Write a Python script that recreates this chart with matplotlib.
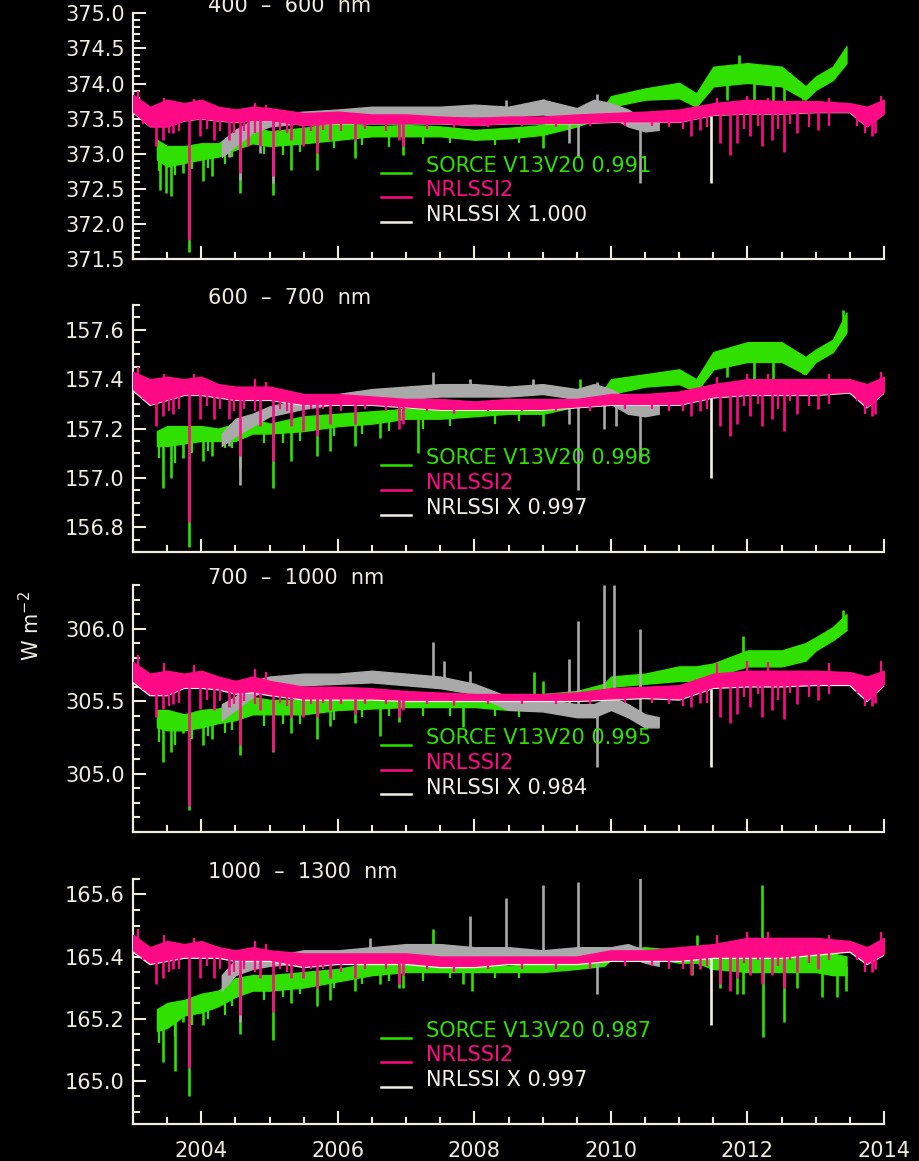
import numpy as np
import matplotlib
matplotlib.use("Agg")
import matplotlib.pyplot as plt
from matplotlib.ticker import MultipleLocator, FormatStrFormatter

# ---------------- DATA ----------------
BANDS = ["400  \u2013  600  nm", "600  \u2013  700  nm", "700  \u2013  1000  nm", "1000  \u2013  1300  nm"]
SORCE_FACTORS = ["0.991", "0.998", "0.995", "0.987"]
NRL_FACTORS = ["1.000", "0.997", "0.984", "0.997"]
YLIMS = [(371.5, 375.0), (156.7, 157.7), (304.6, 306.3), (164.86, 165.65)]
YMAJOR = [0.5, 0.2, 0.5, 0.2]
YMINOR = [0.1, 0.05, 0.1, 0.05]
XTICKS = [2004, 2006, 2008, 2010, 2012, 2014]

T_NRL = [2003.0, 2003.25, 2003.5, 2003.75, 2004.0, 2004.25, 2004.5, 2004.75, 2005.0,
         2005.5, 2006.0, 2006.5, 2007.0, 2007.5, 2008.0, 2008.5, 2009.0, 2009.5,
         2010.0, 2010.5, 2011.0, 2011.5, 2012.0, 2012.5, 2013.0, 2013.5, 2013.75, 2014.0]
T_SORCE = [2003.35, 2003.5, 2003.75, 2004.0, 2004.25, 2004.5, 2004.75, 2005.0, 2005.5,
           2006.0, 2006.5, 2007.0, 2007.5, 2008.0, 2008.5, 2009.0, 2009.5, 2009.9,
           2010.0, 2010.5, 2011.0, 2011.25, 2011.5, 2012.0, 2012.5, 2012.85, 2013.0,
           2013.25, 2013.45]
T_GRAY = [2004.3, 2004.5, 2004.75, 2005.0, 2005.5, 2006.0, 2006.5, 2007.0, 2007.5,
          2008.0, 2008.5, 2009.0, 2009.5, 2009.75, 2010.0, 2010.25, 2010.5, 2010.7]

# years of the smaller NRLSSI2 excursions (same days in every band)
NRL2_SMALL_DIP_YEARS = [2003.15, 2003.52, 2003.68, 2004.08, 2004.27, 2004.48, 2004.62, 2004.78,
                        2005.15, 2005.25, 2005.60, 2005.78, 2006.05, 2006.40, 2006.70, 2007.30,
                        2007.70, 2008.20, 2008.70, 2009.20, 2009.70, 2010.20, 2010.60, 2010.85,
                        2011.05, 2011.40, 2011.95, 2012.15, 2012.45, 2012.62, 2012.90, 2013.20,
                        2013.60, 2013.72]
NRL2_PEAK_YEARS = [2003.08, 2003.45, 2003.90, 2004.78, 2004.95, 2011.55, 2012.00, 2012.30,
                   2013.20, 2013.95]
SORCE_SMALL_DIP_YEARS = [2003.38, 2003.62, 2003.86, 2004.10, 2004.35, 2004.45, 2004.92,
                         2005.20, 2005.45, 2005.95, 2006.35, 2006.75, 2007.25, 2007.65,
                         2008.30, 2008.65]

# ---- Panel 1: 400-600 nm ----
P1_NRL2_HI = [373.84, 373.67, 373.77, 373.72, 373.77, 373.67, 373.63, 373.67, 373.65, 373.58,
              373.60, 373.56, 373.56, 373.53, 373.51, 373.53, 373.53, 373.56, 373.58, 373.60,
              373.63, 373.72, 373.77, 373.75, 373.75, 373.72, 373.67, 373.77]
P1_NRL2_LO = [373.60, 373.39, 373.39, 373.48, 373.51, 373.48, 373.46, 373.48, 373.48, 373.41,
              373.44, 373.44, 373.44, 373.44, 373.41, 373.44, 373.44, 373.44, 373.46, 373.46,
              373.46, 373.56, 373.58, 373.58, 373.60, 373.60, 373.39, 373.58]
P1_NRL = [373.59, 373.39, 373.39, 373.47, 373.50, 373.47, 373.45, 373.47, 373.47, 373.41,
          373.43, 373.43, 373.43, 373.43, 373.41, 373.43, 373.43, 373.43, 373.45, 373.45,
          373.45, 373.55, 373.57, 373.57, 373.59, 373.59, 373.39, 373.57]
P1_SORCE_HI = [373.20, 373.11, 373.11, 373.15, 373.15, 373.30, 373.39, 373.32, 373.37, 373.44,
               373.39, 373.41, 373.39, 373.34, 373.37, 373.41, 373.58, 373.67, 373.82, 373.93,
               374.01, 373.86, 374.24, 374.29, 374.24, 373.96, 374.10, 374.24, 374.53]
P1_SORCE_LO = [372.92, 372.82, 372.87, 372.92, 372.96, 373.06, 373.15, 373.11, 373.15, 373.20,
               373.25, 373.25, 373.25, 373.20, 373.22, 373.27, 373.39, 373.53, 373.67, 373.77,
               373.79, 373.67, 373.96, 374.01, 373.96, 373.77, 373.91, 374.05, 374.29]
P1_GRAY_HI = [373.18, 373.34, 373.48, 373.56, 373.60, 373.63, 373.67, 373.67, 373.67,
              373.70, 373.67, 373.77, 373.65, 373.77, 373.72, 373.63, 373.48, 373.48]
P1_GRAY_LO = [372.96, 373.11, 373.30, 373.39, 373.44, 373.46, 373.51, 373.53, 373.53,
              373.53, 373.53, 373.56, 373.51, 373.56, 373.53, 373.39, 373.32, 373.34]
P1_NRL2_SPIKES = [(2003.33, 373.11), (2003.44, 373.20), (2003.59, 373.30), (2003.82, 371.78),
                  (2003.98, 373.25), (2004.18, 373.20), (2004.40, 373.20), (2004.57, 372.73),
                  (2004.69, 373.11), (2004.86, 373.11), (2005.05, 372.68), (2005.32, 373.20),
                  (2005.49, 373.11), (2005.69, 373.01), (2005.89, 373.20), (2006.25, 373.20),
                  (2006.89, 373.20), (2006.96, 373.11), (2011.17, 373.25), (2011.31, 373.34),
                  (2011.60, 373.15), (2011.74, 372.99), (2011.84, 373.15), (2012.04, 373.25),
                  (2012.21, 373.11), (2012.36, 373.20), (2012.53, 373.03), (2012.72, 373.30),
                  (2013.04, 373.34), (2013.82, 373.25), (2013.87, 373.30)]
P1_NRL2_SMALL_DIPS = [373.42, 373.30, 373.32, 373.35, 373.33, 373.30, 373.33, 373.30,
                      373.33, 373.30, 373.32, 373.34, 373.33, 373.35, 373.33, 373.36,
                      373.37, 373.38, 373.39, 373.38, 373.39, 373.39, 373.40, 373.38,
                      373.36, 373.38, 373.35, 373.40, 373.36, 373.42, 373.38, 373.40,
                      373.40, 373.30]
P1_NRL2_PEAKS = [373.90, 373.80, 373.78, 373.72, 373.70, 373.80, 373.82, 373.80, 373.79, 373.82]
P1_SORCE_SPIKES = [(2003.40, 372.49), (2003.49, 372.44), (2003.56, 372.40), (2003.73, 372.73),
                   (2004.03, 372.61), (2004.15, 372.68), (2004.57, 372.44), (2005.05, 372.42),
                   (2003.82, 371.61), (2005.32, 372.77), (2005.69, 372.77), (2006.25, 372.94),
                   (2006.96, 372.99), (2009.00, 373.08), (2011.88, 374.41), (2011.70, 373.77),
                   (2012.09, 373.72), (2012.38, 373.67), (2012.53, 373.67), (2012.82, 373.77)]
P1_SORCE_SMALL_DIPS = [372.75, 372.70, 372.78, 372.80, 372.85, 372.95, 373.00, 372.98,
                       373.02, 373.08, 373.12, 373.10, 373.14, 373.15, 373.12, 373.15]
P1_GRAY_SPIKES = [(2008.46, 373.77), (2009.00, 373.78), (2009.79, 373.85), (2009.39, 373.15),
                  (2009.52, 372.96), (2010.43, 372.59), (2004.57, 372.63), (2005.05, 372.59),
                  (2004.86, 373.01), (2004.40, 372.96)]
P1_NRL_SPIKES = [(2011.46, 372.59)]

# ---- Panel 2: 600-700 nm ----
P2_NRL2_HI = [157.43, 157.40, 157.41, 157.40, 157.41, 157.38, 157.37, 157.37, 157.37, 157.34,
              157.34, 157.33, 157.32, 157.32, 157.31, 157.32, 157.32, 157.32, 157.34, 157.34,
              157.35, 157.38, 157.40, 157.40, 157.40, 157.40, 157.38, 157.41]
P2_NRL2_LO = [157.36, 157.30, 157.32, 157.34, 157.34, 157.33, 157.32, 157.32, 157.32, 157.30,
              157.30, 157.30, 157.29, 157.28, 157.28, 157.28, 157.28, 157.29, 157.30, 157.30,
              157.30, 157.33, 157.34, 157.34, 157.34, 157.35, 157.29, 157.35]
P2_NRL = [157.355, 157.295, 157.315, 157.335, 157.335, 157.325, 157.315, 157.315, 157.315,
          157.295, 157.295, 157.295, 157.285, 157.275, 157.275, 157.275, 157.275, 157.285,
          157.295, 157.295, 157.295, 157.325, 157.335, 157.335, 157.335, 157.345, 157.285,
          157.345]
P2_SORCE_HI = [157.19, 157.21, 157.21, 157.21, 157.20, 157.22, 157.24, 157.22, 157.25, 157.26,
               157.27, 157.28, 157.28, 157.28, 157.30, 157.30, 157.33, 157.36, 157.40, 157.42,
               157.44, 157.40, 157.51, 157.55, 157.55, 157.49, 157.52, 157.56, 157.67]
P2_SORCE_LO = [157.13, 157.13, 157.14, 157.15, 157.15, 157.15, 157.18, 157.18, 157.19, 157.21,
               157.22, 157.24, 157.24, 157.25, 157.26, 157.26, 157.29, 157.32, 157.34, 157.37,
               157.38, 157.35, 157.44, 157.47, 157.47, 157.42, 157.47, 157.51, 157.59]
P2_GRAY_HI = [157.18, 157.24, 157.26, 157.29, 157.32, 157.34, 157.36, 157.37, 157.38,
              157.38, 157.37, 157.38, 157.36, 157.38, 157.36, 157.32, 157.30, 157.32]
P2_GRAY_LO = [157.13, 157.17, 157.21, 157.25, 157.28, 157.30, 157.32, 157.32, 157.33,
              157.33, 157.33, 157.34, 157.32, 157.33, 157.30, 157.26, 157.25, 157.26]
P2_NRL2_SPIKES = [(2003.33, 157.21), (2003.44, 157.25), (2003.59, 157.26), (2003.82, 156.82),
                  (2003.98, 157.24), (2004.18, 157.24), (2004.40, 157.24), (2004.57, 157.09),
                  (2004.86, 157.21), (2005.05, 157.07), (2005.32, 157.21), (2005.49, 157.19),
                  (2005.69, 157.17), (2005.89, 157.22), (2006.25, 157.22), (2006.89, 157.20),
                  (2006.96, 157.22), (2011.17, 157.25), (2011.31, 157.27), (2011.60, 157.21),
                  (2011.74, 157.17), (2011.84, 157.22), (2012.04, 157.25), (2012.21, 157.21),
                  (2012.36, 157.24), (2012.53, 157.19), (2012.72, 157.26), (2013.04, 157.28),
                  (2013.82, 157.25), (2013.87, 157.26)]
P2_NRL2_SMALL_DIPS = [157.32, 157.27, 157.28, 157.29, 157.28, 157.27, 157.28, 157.27,
                      157.28, 157.27, 157.28, 157.28, 157.27, 157.28, 157.27, 157.27,
                      157.26, 157.27, 157.27, 157.27, 157.27, 157.28, 157.28, 157.27,
                      157.27, 157.28, 157.29, 157.30, 157.28, 157.31, 157.29, 157.30,
                      157.31, 157.26]
P2_NRL2_PEAKS = [157.45, 157.42, 157.42, 157.40, 157.39, 157.41, 157.42, 157.42, 157.42, 157.43]
P2_SORCE_SPIKES = [(2003.44, 156.96), (2003.56, 157.00), (2003.73, 157.08), (2004.03, 157.07),
                   (2004.15, 157.09), (2003.82, 156.72), (2005.05, 156.96), (2004.57, 157.04),
                   (2005.32, 157.07), (2005.69, 157.09), (2005.89, 157.11), (2006.25, 157.13),
                   (2006.62, 157.16), (2007.18, 157.10), (2009.00, 157.21), (2009.55, 157.40),
                   (2013.40, 157.68), (2011.70, 157.41), (2012.09, 157.40), (2012.38, 157.38),
                   (2012.82, 157.42)]
P2_SORCE_SMALL_DIPS = [157.08, 157.06, 157.10, 157.11, 157.12, 157.12, 157.14, 157.14,
                       157.15, 157.17, 157.18, 157.19, 157.20, 157.21, 157.22, 157.23]
P2_GRAY_SPIKES = [(2007.40, 157.43), (2007.94, 157.40), (2008.86, 157.40), (2009.79, 157.39),
                  (2009.39, 157.22), (2009.52, 156.95), (2009.90, 157.20), (2010.08, 157.21),
                  (2010.43, 157.07), (2004.57, 156.97), (2004.40, 157.13)]
P2_NRL_SPIKES = [(2011.46, 157.00)]

# ---- Panel 3: 700-1000 nm ----
P3_NRL2_HI = [305.77, 305.69, 305.71, 305.69, 305.71, 305.67, 305.64, 305.67, 305.64, 305.60,
              305.60, 305.59, 305.57, 305.56, 305.55, 305.55, 305.55, 305.56, 305.59, 305.60,
              305.61, 305.69, 305.71, 305.71, 305.71, 305.70, 305.67, 305.71]
P3_NRL2_LO = [305.64, 305.55, 305.55, 305.60, 305.60, 305.59, 305.56, 305.57, 305.55, 305.52,
              305.52, 305.52, 305.51, 305.51, 305.51, 305.51, 305.51, 305.51, 305.52, 305.53,
              305.52, 305.60, 305.61, 305.61, 305.62, 305.62, 305.51, 305.62]
P3_NRL = [305.63, 305.54, 305.54, 305.59, 305.59, 305.58, 305.55, 305.56, 305.54, 305.51,
          305.51, 305.51, 305.50, 305.50, 305.50, 305.50, 305.50, 305.50, 305.51, 305.52,
          305.51, 305.59, 305.60, 305.60, 305.61, 305.61, 305.50, 305.61]
P3_SORCE_HI = [305.44, 305.44, 305.41, 305.44, 305.45, 305.48, 305.53, 305.51, 305.51, 305.53,
               305.52, 305.52, 305.52, 305.53, 305.51, 305.55, 305.57, 305.62, 305.67, 305.69,
               305.74, 305.74, 305.76, 305.85, 305.85, 305.90, 305.94, 306.01, 306.10]
P3_SORCE_LO = [305.32, 305.30, 305.30, 305.32, 305.35, 305.37, 305.41, 305.41, 305.41, 305.44,
               305.45, 305.46, 305.46, 305.46, 305.44, 305.48, 305.51, 305.55, 305.60, 305.62,
               305.64, 305.64, 305.67, 305.74, 305.74, 305.78, 305.85, 305.92, 305.99]
P3_GRAY_HI = [305.48, 305.53, 305.64, 305.67, 305.69, 305.69, 305.71, 305.69, 305.67,
              305.62, 305.53, 305.51, 305.48, 305.48, 305.53, 305.48, 305.41, 305.39]
P3_GRAY_LO = [305.37, 305.44, 305.53, 305.60, 305.61, 305.62, 305.63, 305.61, 305.59,
              305.55, 305.44, 305.43, 305.39, 305.39, 305.44, 305.39, 305.32, 305.32]
P3_NRL2_SPIKES = [(2003.33, 305.39), (2003.44, 305.45), (2003.59, 305.48), (2003.82, 304.78),
                  (2003.98, 305.45), (2004.18, 305.44), (2004.40, 305.46), (2004.57, 305.20),
                  (2004.86, 305.44), (2005.05, 305.16), (2005.32, 305.39), (2005.49, 305.39),
                  (2005.69, 305.39), (2005.89, 305.44), (2006.25, 305.41), (2006.89, 305.39),
                  (2006.96, 305.44), (2011.17, 305.46), (2011.31, 305.49), (2011.60, 305.39),
                  (2011.74, 305.35), (2011.84, 305.41), (2012.04, 305.46), (2012.21, 305.39),
                  (2012.36, 305.44), (2012.53, 305.38), (2012.72, 305.48), (2013.04, 305.51),
                  (2013.82, 305.47), (2013.87, 305.49)]
P3_NRL2_SMALL_DIPS = [305.58, 305.47, 305.49, 305.51, 305.50, 305.48, 305.50, 305.48,
                      305.49, 305.47, 305.48, 305.49, 305.48, 305.48, 305.48, 305.48,
                      305.47, 305.48, 305.48, 305.48, 305.48, 305.49, 305.49, 305.48,
                      305.47, 305.49, 305.53, 305.55, 305.51, 305.56, 305.53, 305.55,
                      305.56, 305.47]
P3_NRL2_PEAKS = [305.82, 305.76, 305.75, 305.72, 305.70, 305.76, 305.78, 305.77, 305.76, 305.78]
P3_SORCE_SPIKES = [(2003.44, 305.08), (2003.56, 305.15), (2003.73, 305.28), (2004.03, 305.20),
                   (2004.15, 305.24), (2003.82, 304.75), (2004.57, 305.13), (2005.05, 305.15),
                   (2005.32, 305.28), (2005.69, 305.24), (2005.89, 305.33), (2006.25, 305.35),
                   (2006.62, 305.26), (2006.89, 305.36), (2007.84, 305.32), (2008.87, 305.70),
                   (2009.00, 305.64), (2011.94, 305.95), (2013.40, 306.13)]
P3_SORCE_SMALL_DIPS = [305.22, 305.20, 305.24, 305.26, 305.28, 305.30, 305.33, 305.34,
                       305.34, 305.37, 305.39, 305.40, 305.40, 305.40, 305.40, 305.39]
P3_GRAY_SPIKES = [(2007.40, 305.91), (2007.55, 305.78), (2007.94, 305.71), (2009.39, 305.79),
                  (2009.52, 306.05), (2009.90, 306.30), (2010.05, 306.30), (2010.43, 306.00),
                  (2009.79, 305.05)]
P3_NRL_SPIKES = [(2011.46, 305.05)]

# ---- Panel 4: 1000-1300 nm ----
P4_NRL2_HI = [165.47, 165.43, 165.45, 165.44, 165.45, 165.43, 165.42, 165.43, 165.42, 165.41,
              165.41, 165.41, 165.41, 165.40, 165.40, 165.40, 165.40, 165.40, 165.42, 165.42,
              165.43, 165.44, 165.46, 165.46, 165.46, 165.45, 165.43, 165.46]
P4_NRL2_LO = [165.42, 165.38, 165.39, 165.40, 165.40, 165.40, 165.39, 165.39, 165.39, 165.37,
              165.38, 165.38, 165.38, 165.37, 165.37, 165.38, 165.38, 165.38, 165.39, 165.39,
              165.39, 165.40, 165.40, 165.40, 165.41, 165.42, 165.38, 165.41]
P4_NRL = [165.415, 165.375, 165.385, 165.395, 165.395, 165.395, 165.385, 165.385, 165.385,
          165.365, 165.375, 165.375, 165.375, 165.365, 165.365, 165.375, 165.375, 165.375,
          165.385, 165.385, 165.385, 165.395, 165.395, 165.395, 165.405, 165.415, 165.375,
          165.405]
P4_SORCE_HI = [165.23, 165.25, 165.26, 165.28, 165.29, 165.33, 165.34, 165.34, 165.35, 165.36,
               165.38, 165.38, 165.38, 165.38, 165.37, 165.38, 165.38, 165.40, 165.42, 165.43,
               165.42, 165.42, 165.42, 165.42, 165.42, 165.42, 165.42, 165.41, 165.40]
P4_SORCE_LO = [165.16, 165.17, 165.21, 165.22, 165.24, 165.27, 165.29, 165.29, 165.30, 165.32,
               165.34, 165.35, 165.35, 165.35, 165.35, 165.35, 165.36, 165.37, 165.39, 165.40,
               165.38, 165.38, 165.36, 165.35, 165.35, 165.35, 165.35, 165.34, 165.34]
P4_GRAY_HI = [165.34, 165.39, 165.41, 165.40, 165.42, 165.42, 165.43, 165.44, 165.44,
              165.43, 165.43, 165.42, 165.43, 165.43, 165.43, 165.44, 165.42, 165.42]
P4_GRAY_LO = [165.29, 165.34, 165.36, 165.37, 165.38, 165.39, 165.40, 165.40, 165.40,
              165.40, 165.40, 165.40, 165.40, 165.40, 165.40, 165.40, 165.38, 165.37]
P4_NRL2_SPIKES = [(2003.33, 165.31), (2003.44, 165.33), (2003.59, 165.36), (2003.82, 165.04),
                  (2003.98, 165.33), (2004.18, 165.33), (2004.40, 165.34), (2004.57, 165.21),
                  (2004.86, 165.33), (2005.05, 165.22), (2005.32, 165.33), (2005.49, 165.33),
                  (2005.69, 165.30), (2005.89, 165.33), (2006.25, 165.33), (2006.89, 165.31),
                  (2006.96, 165.34), (2011.17, 165.34), (2011.31, 165.36), (2011.60, 165.31),
                  (2011.74, 165.29), (2011.84, 165.33), (2012.04, 165.34), (2012.21, 165.31),
                  (2012.36, 165.34), (2012.53, 165.30), (2012.72, 165.35), (2013.04, 165.36),
                  (2013.82, 165.35), (2013.87, 165.36)]
P4_NRL2_SMALL_DIPS = [165.39, 165.35, 165.36, 165.37, 165.36, 165.35, 165.36, 165.35,
                      165.36, 165.35, 165.36, 165.36, 165.35, 165.36, 165.36, 165.36,
                      165.35, 165.36, 165.36, 165.36, 165.36, 165.37, 165.37, 165.36,
                      165.36, 165.37, 165.38, 165.39, 165.37, 165.39, 165.38, 165.39,
                      165.39, 165.35]
P4_NRL2_PEAKS = [165.49, 165.47, 165.46, 165.45, 165.44, 165.47, 165.48, 165.48, 165.47, 165.48]
P4_SORCE_SPIKES = [(2003.44, 165.06), (2003.61, 165.03), (2003.73, 165.19), (2004.03, 165.18),
                   (2004.15, 165.23), (2003.82, 164.95), (2004.57, 165.15), (2005.05, 165.13),
                   (2005.32, 165.25), (2005.69, 165.24), (2005.89, 165.26), (2006.25, 165.29),
                   (2006.62, 165.31), (2006.89, 165.30), (2006.96, 165.30), (2007.40, 165.49),
                   (2007.84, 165.31), (2007.96, 165.29), (2011.26, 165.47), (2011.19, 165.34),
                   (2011.45, 165.36), (2011.60, 165.30), (2011.85, 165.28), (2011.94, 165.28),
                   (2012.21, 165.63), (2012.22, 165.14), (2012.53, 165.19), (2012.72, 165.30),
                   (2013.09, 165.27), (2013.31, 165.27), (2013.45, 165.29)]
P4_SORCE_SMALL_DIPS = [165.12, 165.14, 165.18, 165.20, 165.21, 165.24, 165.26, 165.27,
                       165.28, 165.30, 165.31, 165.32, 165.32, 165.33, 165.33, 165.33]
P4_GRAY_SPIKES = [(2006.47, 165.46), (2007.94, 165.53), (2008.46, 165.59), (2009.00, 165.63),
                  (2009.52, 165.64), (2010.43, 165.66), (2009.79, 165.28), (2004.57, 165.19)]
P4_NRL_SPIKES = [(2011.46, 165.18)]

PANELS = [
    (P1_NRL2_HI, P1_NRL2_LO, P1_NRL, P1_SORCE_HI, P1_SORCE_LO, P1_GRAY_HI, P1_GRAY_LO,
     P1_NRL2_SPIKES, P1_SORCE_SPIKES, P1_GRAY_SPIKES, P1_NRL_SPIKES,
     P1_NRL2_SMALL_DIPS, P1_NRL2_PEAKS, P1_SORCE_SMALL_DIPS),
    (P2_NRL2_HI, P2_NRL2_LO, P2_NRL, P2_SORCE_HI, P2_SORCE_LO, P2_GRAY_HI, P2_GRAY_LO,
     P2_NRL2_SPIKES, P2_SORCE_SPIKES, P2_GRAY_SPIKES, P2_NRL_SPIKES,
     P2_NRL2_SMALL_DIPS, P2_NRL2_PEAKS, P2_SORCE_SMALL_DIPS),
    (P3_NRL2_HI, P3_NRL2_LO, P3_NRL, P3_SORCE_HI, P3_SORCE_LO, P3_GRAY_HI, P3_GRAY_LO,
     P3_NRL2_SPIKES, P3_SORCE_SPIKES, P3_GRAY_SPIKES, P3_NRL_SPIKES,
     P3_NRL2_SMALL_DIPS, P3_NRL2_PEAKS, P3_SORCE_SMALL_DIPS),
    (P4_NRL2_HI, P4_NRL2_LO, P4_NRL, P4_SORCE_HI, P4_SORCE_LO, P4_GRAY_HI, P4_GRAY_LO,
     P4_NRL2_SPIKES, P4_SORCE_SPIKES, P4_GRAY_SPIKES, P4_NRL_SPIKES,
     P4_NRL2_SMALL_DIPS, P4_NRL2_PEAKS, P4_SORCE_SMALL_DIPS),
]

# ---------------- STYLE ----------------
BG = "black"
FG = "#EFECE0"
GREEN = "#2FE000"
PINK = "#FF0A86"
GRAY = "#A9A9A9"
WHITE = "#F2F0E6"
FS = 15

plt.rcParams["font.family"] = ["DejaVu Sans"]

fig = plt.figure(figsize=(9.2, 11.61), dpi=100, facecolor=BG)

AX_POS = [(0.1446, 0.7767, 0.8163, 0.2119),
          (0.1446, 0.5245, 0.8163, 0.2127),
          (0.1446, 0.2834, 0.8163, 0.2127),
          (0.1446, 0.0319, 0.8163, 0.2110)]


def band(ax, t, hi, lo, color, z):
    ax.fill_between(t, lo, hi, facecolor=color, edgecolor=color, lw=1.0, zorder=z)


def spikes(ax, years, tips, t, hi, lo, color, z, lw=1.9):
    ys = np.asarray(years, dtype=float)
    vs = np.asarray(tips, dtype=float)
    mid = (np.array(hi) + np.array(lo)) / 2.0
    base = np.interp(ys, t, mid)
    ax.vlines(ys, base, vs, colors=color, lw=lw, zorder=z)


def pair_spikes(ax, pairs, t, hi, lo, color, z):
    spikes(ax, [p[0] for p in pairs], [p[1] for p in pairs], t, hi, lo, color, z)


for i, (nhi, nlo, nrl, shi, slo, ghi, glo, nsp, ssp, gsp, wsp,
        nsmall, npeak, ssmall) in enumerate(PANELS):
    ax = fig.add_axes(AX_POS[i])
    ax.set_facecolor(BG)

    # SORCE (green)
    band(ax, T_SORCE, shi, slo, GREEN, 2)
    pair_spikes(ax, ssp, T_SORCE, shi, slo, GREEN, 2)
    spikes(ax, SORCE_SMALL_DIP_YEARS, ssmall, T_SORCE, shi, slo, GREEN, 2, lw=1.6)
    # gray series
    band(ax, T_GRAY, ghi, glo, GRAY, 3)
    pair_spikes(ax, gsp, T_GRAY, ghi, glo, GRAY, 3)
    # NRLSSI (white)
    ax.plot(T_NRL, nrl, color=WHITE, lw=1.3, zorder=4)
    pair_spikes(ax, wsp, T_NRL, nrl, nrl, WHITE, 4)
    # NRLSSI2 (pink)
    band(ax, T_NRL, nhi, nlo, PINK, 5)
    pair_spikes(ax, nsp, T_NRL, nhi, nlo, PINK, 5)
    spikes(ax, NRL2_SMALL_DIP_YEARS, nsmall, T_NRL, nhi, nlo, PINK, 5, lw=1.6)
    spikes(ax, NRL2_PEAK_YEARS, npeak, T_NRL, nhi, nlo, PINK, 5, lw=1.6)

    ax.set_xlim(2003, 2014)
    ax.set_ylim(*YLIMS[i])
    ax.set_xticks(XTICKS)
    ax.xaxis.set_minor_locator(MultipleLocator(0.5))
    ax.yaxis.set_major_locator(MultipleLocator(YMAJOR[i]))
    ax.yaxis.set_minor_locator(MultipleLocator(YMINOR[i]))
    ax.yaxis.set_major_formatter(FormatStrFormatter("%.1f"))

    for s in ["top", "right"]:
        ax.spines[s].set_visible(False)
    for s in ["left", "bottom"]:
        ax.spines[s].set_color(FG)
        ax.spines[s].set_linewidth(1.6)

    ax.tick_params(which="both", direction="in", colors=FG, width=1.5,
                   labelsize=FS, top=False, right=False)
    ax.tick_params(which="major", length=9.5)
    ax.tick_params(which="minor", length=5)
    ax.tick_params(axis="y", which="major", pad=6)
    ax.tick_params(axis="x", which="major", pad=12)
    if i < 3:
        ax.tick_params(axis="x", labelbottom=False)

    ax.text(0.10, 1.004, BANDS[i], transform=ax.transAxes, color=FG, fontsize=FS,
            ha="left", va="baseline")

    # legend
    entries = [("SORCE V13V20 " + SORCE_FACTORS[i], GREEN),
               ("NRLSSI2", PINK),
               ("NRLSSI X " + NRL_FACTORS[i], WHITE)]
    for k, (lab, col) in enumerate(entries):
        yl = 0.352 - 0.1 * k
        ax.plot([0.330, 0.370], [yl, yl], transform=ax.transAxes, color=col, lw=1.8,
                zorder=6, clip_on=False)
        ax.text(0.390, yl + 0.028, lab, transform=ax.transAxes, color=col, fontsize=FS,
                ha="left", va="center", zorder=6)

fig.text(0.033, 0.461, "W m$^{-2}$", rotation=90, color=FG, fontsize=FS,
         ha="center", va="center")

fig.savefig("out.png", dpi=100, facecolor=BG)
